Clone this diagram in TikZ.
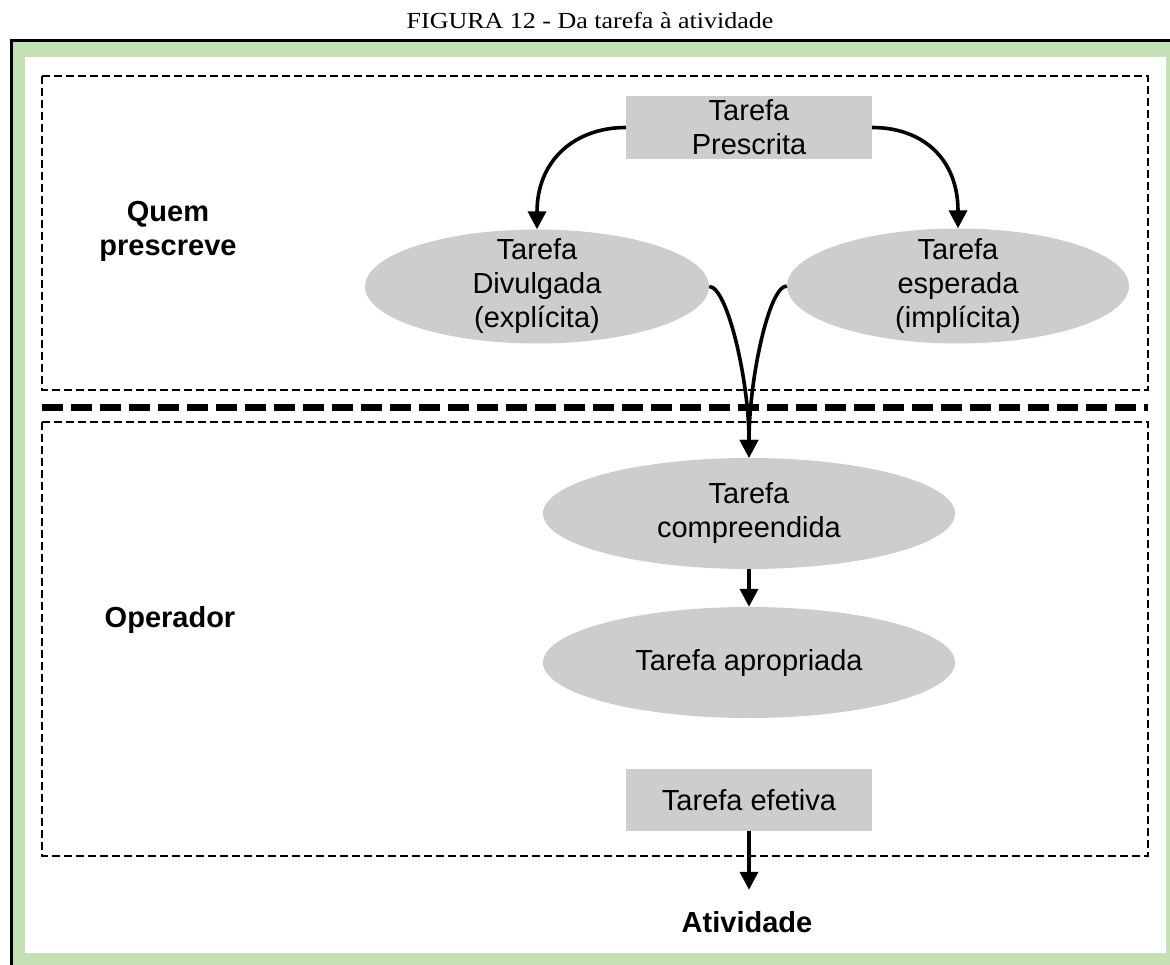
\documentclass[tikz,border=0pt]{standalone}
\usepackage{fontspec}
\setmainfont{Liberation Sans}
\newfontfamily\titlefont{Liberation Serif}
\usetikzlibrary{shapes.geometric,arrows.meta}

\definecolor{bandgreen}{RGB}{197,224,180}
\definecolor{boxgray}{RGB}{205,205,205}

\tikzset{
  txt/.style={font=\fontsize{29}{34}\selectfont, align=center, inner sep=0pt},
  bold/.style={font=\fontsize{29}{34}\selectfont\bfseries, align=center, inner sep=0pt},
  graybox/.style={rectangle, fill=boxgray, inner sep=0pt},
  blob/.style={ellipse, fill=boxgray, inner sep=0pt},
  zone/.style={line width=2.5pt, dash pattern=on 8pt off 4pt},
  divider/.style={line width=7pt, dash pattern=on 21pt off 8pt},
  flow/.style={line width=3.6pt, -{Triangle[width=18pt,length=18pt]}},
}

\begin{document}
\begin{tikzpicture}[x=1pt,y=-1pt]
\useasboundingbox (0,0) rectangle (1170,965);

% caption
\node[anchor=base, inner sep=0pt] (title) at (590,29)
  {\titlefont\fontsize{23}{27}\selectfont\scalebox{1.13}[1]{FIGURA 12 - Da tarefa à atividade}};

% framed panel with green band
\fill[bandgreen] (12.5,41) rectangle (1170,965);
\fill[white] (25,57) rectangle (1166,953);
\draw[line width=2.7pt] (11.3,965) -- (11.3,40.6) -- (1170,40.6);

% two zones and the divider between them
\draw[zone] (42,76) rectangle (1148,390);
\draw[zone] (42,422) rectangle (1148,856);
\draw[divider] (42,408) -- (1148,408);

% side labels
\node[bold] (quem) at (168,231) {Quem\\prescreve};
\node[bold] (oper) at (170,620) {Operador};

% task nodes
\node[graybox, minimum width=246pt, minimum height=63pt] (presc) at (749,127.5) {};
\node[txt] at (presc) {Tarefa\\Prescrita};

\node[blob, minimum width=344pt, minimum height=114pt] (div) at (537,286.5) {};
\node[txt] at (div) {Tarefa\\Divulgada\\(explícita)};

\node[blob, minimum width=342pt, minimum height=115pt] (esp) at (958,286) {};
\node[txt] at (esp) {Tarefa\\esperada\\(implícita)};

\node[blob, minimum width=412pt, minimum height=111pt] (comp) at (749,513.5) {};
\node[txt] at (comp) {Tarefa\\compreendida};

\node[blob, minimum width=412pt, minimum height=111pt] (aprop) at (749,662.5) {};
\node[txt] at (aprop) {Tarefa apropriada};

\node[graybox, minimum width=246pt, minimum height=62pt] (efe) at (749,800) {};
\node[txt] at (efe) {Tarefa efetiva};

\node[bold, anchor=base] (ativ) at (747,932) {Atividade};

% connectors
\draw[flow] (presc.west) .. controls +(-50,0) and +(0,-70) .. (div.north);
\draw[flow] (presc.east) .. controls +(50,0) and +(0,-70) .. (esp.north);
\draw[flow] (div.east) .. controls +(18,0) and +(0,-78) .. (comp.north);
\draw[flow] (esp.west) .. controls +(-18,0) and +(0,-78) .. (comp.north);
\draw[flow] (comp.south) -- (aprop.north);
\draw[flow, shorten >=21pt] (efe.south) -- (efe.south |- ativ.north);
\end{tikzpicture}
\end{document}
